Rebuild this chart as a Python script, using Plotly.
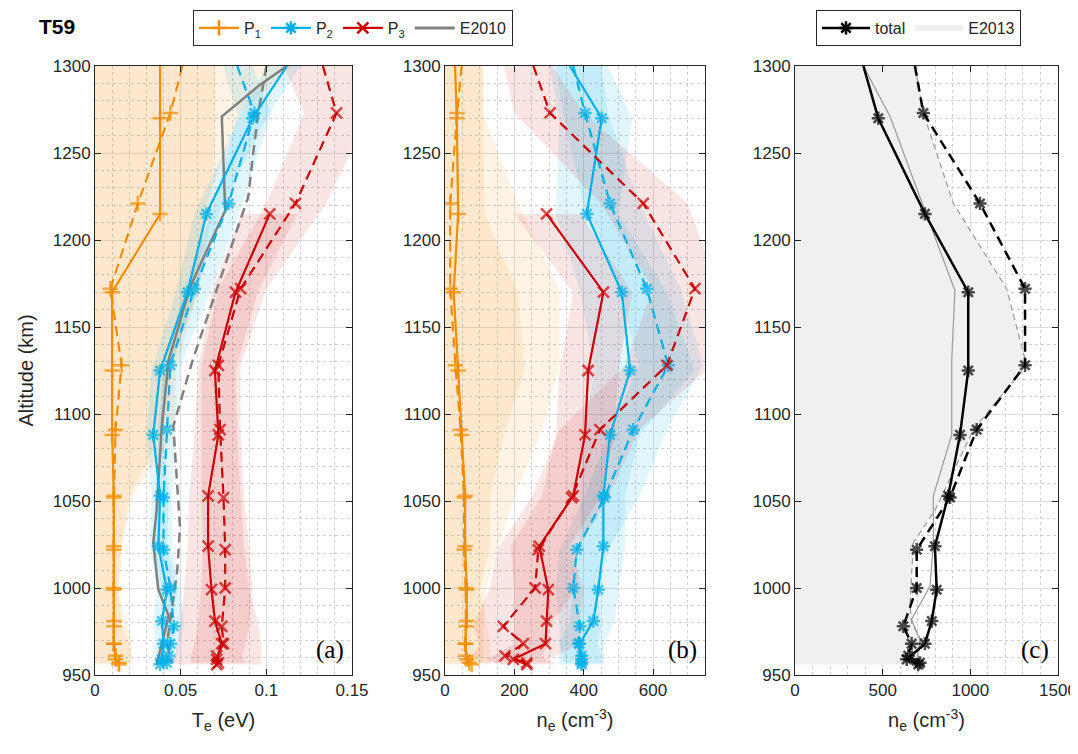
import plotly.graph_objects as go

# ---------------- data ----------------
alt_s = [1300, 1270, 1215, 1170, 1125, 1088, 1053, 1024, 999, 981, 968, 959, 956]
alt_d = [1300, 1273, 1221, 1172, 1128, 1091, 1052, 1022, 1000, 978, 968, 961, 957]

# Panel (a): electron temperature (eV)
te_p1_s = [0.038, 0.038, 0.038, 0.010, 0.010, 0.010, 0.011, 0.011, 0.011, 0.011, 0.011, 0.012, 0.014]
te_p1_d = [0.051, 0.044, 0.025, 0.009, 0.0155, 0.012, 0.011, 0.011, 0.011, 0.011, 0.011, 0.012, 0.014]
te_p2_s = [0.112, 0.092, 0.065, 0.054, 0.038, 0.034, 0.038, 0.037, 0.042, 0.039, 0.040, 0.039, 0.038]
te_p2_d = [0.083, 0.093, 0.078, 0.058, 0.044, 0.042, 0.040, 0.040, 0.044, 0.046, 0.044, 0.043, 0.042]
te_p3_s = [None, None, 0.102, 0.082, 0.070, 0.072, 0.066, 0.066, 0.068, 0.070, 0.074, 0.071, 0.071]
te_p3_d = [0.133, 0.141, 0.117, 0.085, 0.072, 0.073, 0.075, 0.076, 0.076, 0.074, 0.075, 0.071, 0.072]

te_p1_s_lo = [0] * 13
te_p1_s_hi = [0.070, 0.070, 0.068, 0.060, 0.047, 0.046, 0.022, 0.016, 0.014, 0.018, 0.022, 0.022, 0.022]
te_p1_d_lo = [0] * 13
te_p1_d_hi = [0.115, 0.085, 0.065, 0.060, 0.045, 0.040, 0.020, 0.015, 0.013, 0.016, 0.020, 0.020, 0.020]
te_p2_s_lo = [0.100, 0.084, 0.058, 0.047, 0.033, 0.030, 0.033, 0.032, 0.036, 0.034, 0.035, 0.034, 0.033]
te_p2_s_hi = [0.120, 0.100, 0.072, 0.060, 0.043, 0.039, 0.043, 0.042, 0.048, 0.045, 0.046, 0.044, 0.043]
te_p2_d_lo = [0.075, 0.083, 0.070, 0.052, 0.040, 0.037, 0.035, 0.035, 0.039, 0.040, 0.039, 0.038, 0.037]
te_p2_d_hi = [0.092, 0.103, 0.086, 0.068, 0.050, 0.047, 0.045, 0.045, 0.050, 0.052, 0.049, 0.048, 0.047]
te_p3_s_lo = [None, None, 0.085, 0.068, 0.060, 0.058, 0.055, 0.054, 0.052, 0.050, 0.048, 0.046, 0.046]
te_p3_s_hi = [None, None, 0.118, 0.095, 0.082, 0.083, 0.085, 0.087, 0.090, 0.095, 0.097, 0.097, 0.097]
te_p3_d_lo = [0.110, 0.122, 0.100, 0.072, 0.062, 0.062, 0.062, 0.063, 0.062, 0.060, 0.058, 0.056, 0.056]
te_p3_d_hi = [0.160, 0.160, 0.135, 0.100, 0.085, 0.085, 0.087, 0.090, 0.092, 0.090, 0.088, 0.086, 0.088]

# E2010 model (panel a)
e2010_s_alt = [1300, 1289, 1271, 1245, 1217, 1173, 1131, 1093, 1045, 1026, 999, 984, 956]
e2010_s_te = [0.112, 0.096, 0.074, 0.075, 0.076, 0.0555, 0.043, 0.039, 0.036, 0.034, 0.037, 0.043, 0.036]
e2010_d_alt = [1300, 1271, 1247, 1225, 1183, 1143, 1131, 1093, 1035, 1010, 968, 957]
e2010_d_te = [0.100, 0.095, 0.092, 0.0895, 0.075, 0.061, 0.057, 0.0457, 0.0496, 0.048, 0.042, 0.0448]

# Panel (b): electron density (cm^-3)
ne_p1_s = [29, 34, 38, 25, 38, 48, 58, 58, 63, 63, 58, 63, 77]
ne_p1_d = [48, 35, 15, 15, 30, 45, 55, 55, 60, 60, 60, 60, 70]
ne_p2_s = [360, 452, 409, 510, 534, 476, 457, 457, 442, 428, 388, 394, 394]
ne_p2_d = [370, 404, 476, 582, 644, 543, 460, 380, 370, 389, 385, 394, 394]
ne_p3_s = [None, None, 293, 457, 413, 404, 370, 272, 298, 293, 290, 197, 236]
ne_p3_d = [255, 303, 572, 721, 640, 447, 365, 269, 260, 168, 226, 173, 236]

ne_p1_s_lo = [0] * 13
ne_p1_s_hi = [110, 110, 115, 210, 230, 170, 130, 130, 100, 120, 130, 130, 130]
ne_p1_d_lo = [0] * 13
ne_p1_d_hi = [110, 110, 210, 330, 330, 280, 200, 150, 120, 110, 110, 110, 110]
ne_p2_s_lo = [300, 330, 320, 390, 430, 400, 390, 390, 370, 360, 330, 330, 330]
ne_p2_s_hi = [470, 540, 500, 640, 720, 560, 520, 520, 500, 490, 460, 460, 460]
ne_p2_d_lo = [320, 340, 400, 500, 560, 480, 400, 330, 320, 330, 330, 340, 340]
ne_p2_d_hi = [450, 470, 560, 680, 745, 640, 560, 470, 440, 450, 440, 450, 450]
ne_p3_s_lo = [None, None, 200, 370, 330, 320, 280, 190, 200, 200, 200, 120, 150]
ne_p3_s_hi = [None, None, 390, 540, 500, 490, 450, 360, 400, 390, 390, 300, 320]
ne_p3_d_lo = [170, 200, 450, 600, 520, 330, 250, 150, 130, 80, 100, 80, 100]
ne_p3_d_hi = [310, 400, 700, 790, 770, 560, 470, 380, 380, 300, 300, 280, 300]

# Panel (c): total density and E2013 model
ne_tot_s = [390, 475, 741, 988, 988, 941, 874, 798, 808, 780, 741, 637, 703]
ne_tot_d = [684, 732, 1055, 1312, 1312, 1036, 884, 694, 694, 618, 665, 646, 713]
e2013_s_alt = [1300, 1271, 1217, 1171, 1131, 1088, 1053, 1026, 1001, 982, 970, 962, 957]
e2013_s_ne = [390, 542, 741, 912, 894, 894, 789, 789, 770, 665, 713, 700, 713]
e2013_d_alt = [1300, 1273, 1221, 1172, 1128, 1091, 1045, 1026, 990, 980, 970, 960, 956]
e2013_d_ne = [684, 732, 903, 1207, 1321, 1017, 800, 675, 656, 665, 720, 700, 713]

# ---------------- style ----------------
ORANGE = '#F28C00'
BLUE = '#00B0E6'
RED = '#CC0000'
GRAY = '#808080'
AX = '#262626'
FONT = 'Liberation Sans, Arial, sans-serif'
DASH = '10px,6px'

fig = go.Figure()


def band(lo, hi, alt, color, xa, ya):
    pts = [(l, h, a) for l, h, a in zip(lo, hi, alt) if l is not None and h is not None]
    xs = [p[0] for p in pts] + [p[1] for p in reversed(pts)]
    ys = [p[2] for p in pts] + [p[2] for p in reversed(pts)]
    fig.add_trace(go.Scatter(x=xs, y=ys, fill='toself', fillcolor=color, mode='none',
                             line=dict(width=0), hoverinfo='skip', showlegend=False,
                             xaxis=xa, yaxis=ya))


def line(x, y, color, dash, symbol, xa, ya, width=2.2, msize=11, hide_top=True):
    sizes = [msize] * len(x)
    if hide_top:
        sizes[0] = 0
    fig.add_trace(go.Scatter(x=x, y=y, mode='lines+markers' if symbol else 'lines',
                             line=dict(color=color, width=width, dash=dash),
                             marker=dict(symbol=symbol or 'circle', size=sizes, color=color,
                                         line=dict(color=color, width=2.5)),
                             connectgaps=False, showlegend=False, hoverinfo='skip',
                             xaxis=xa, yaxis=ya))


OR_F = 'rgba(242,140,0,0.10)'
BL_F = 'rgba(0,176,230,0.12)'
RD_F = 'rgba(204,0,0,0.10)'

# panel a bands
band(te_p1_s_lo, te_p1_s_hi, alt_s, OR_F, 'x', 'y')
band(te_p1_d_lo, te_p1_d_hi, alt_d, OR_F, 'x', 'y')
band(te_p2_s_lo, te_p2_s_hi, alt_s, BL_F, 'x', 'y')
band(te_p2_d_lo, te_p2_d_hi, alt_d, BL_F, 'x', 'y')
band(te_p3_s_lo, te_p3_s_hi, alt_s, RD_F, 'x', 'y')
band(te_p3_d_lo, te_p3_d_hi, alt_d, RD_F, 'x', 'y')
# panel b bands
band(ne_p1_s_lo, ne_p1_s_hi, alt_s, OR_F, 'x2', 'y2')
band(ne_p1_d_lo, ne_p1_d_hi, alt_d, OR_F, 'x2', 'y2')
band(ne_p2_s_lo, ne_p2_s_hi, alt_s, BL_F, 'x2', 'y2')
band(ne_p2_d_lo, ne_p2_d_hi, alt_d, BL_F, 'x2', 'y2')
band(ne_p3_s_lo, ne_p3_s_hi, alt_s, RD_F, 'x2', 'y2')
band(ne_p3_d_lo, ne_p3_d_hi, alt_d, RD_F, 'x2', 'y2')
# panel c gray E2013 area
fig.add_trace(go.Scatter(x=e2013_d_ne + [0, 0], y=e2013_d_alt + [e2013_d_alt[-1], e2013_d_alt[0]],
                         fill='toself', fillcolor='#F0F0F0', mode='none', hoverinfo='skip',
                         showlegend=False, xaxis='x3', yaxis='y3'))

# panel a lines
line(e2010_s_te, e2010_s_alt, GRAY, 'solid', None, 'x', 'y', width=2.5)
line(e2010_d_te, e2010_d_alt, GRAY, DASH, None, 'x', 'y', width=2.5)
line(te_p1_s, alt_s, ORANGE, 'solid', 'cross-thin', 'x', 'y')
line(te_p1_d, alt_d, ORANGE, DASH, 'cross-thin', 'x', 'y')
line(te_p2_s, alt_s, BLUE, 'solid', 'asterisk', 'x', 'y')
line(te_p2_d, alt_d, BLUE, DASH, 'asterisk', 'x', 'y')
line(te_p3_s, alt_s, RED, 'solid', 'x-thin', 'x', 'y')
line(te_p3_d, alt_d, RED, DASH, 'x-thin', 'x', 'y')
# panel b lines
line(ne_p1_s, alt_s, ORANGE, 'solid', 'cross-thin', 'x2', 'y2')
line(ne_p1_d, alt_d, ORANGE, DASH, 'cross-thin', 'x2', 'y2')
line(ne_p2_s, alt_s, BLUE, 'solid', 'asterisk', 'x2', 'y2')
line(ne_p2_d, alt_d, BLUE, DASH, 'asterisk', 'x2', 'y2')
line(ne_p3_s, alt_s, RED, 'solid', 'x-thin', 'x2', 'y2')
line(ne_p3_d, alt_d, RED, DASH, 'x-thin', 'x2', 'y2')
# panel c lines
line(e2013_s_ne, e2013_s_alt, '#999999', 'solid', None, 'x3', 'y3', width=1.2)
line(e2013_d_ne, e2013_d_alt, '#999999', '6px,4px', None, 'x3', 'y3', width=1.2)
line(ne_tot_s, alt_s, 'black', 'solid', 'asterisk', 'x3', 'y3', width=2.5)
line(ne_tot_d, alt_d, 'black', DASH, 'asterisk', 'x3', 'y3', width=2.5)


# legend-only entries
def leg(name, color, symbol, legend, width=2.2):
    fig.add_trace(go.Scatter(x=[None], y=[None], name=name, mode='lines+markers' if symbol else 'lines',
                             line=dict(color=color, width=width),
                             marker=dict(symbol=symbol or 'circle', size=11, color=color,
                                         line=dict(color=color, width=2.5)),
                             legend=legend, xaxis='x', yaxis='y'))


leg('P<sub>1</sub>', ORANGE, 'cross-thin', 'legend')
leg('P<sub>2</sub>', BLUE, 'asterisk', 'legend')
leg('P<sub>3</sub>', RED, 'x-thin', 'legend')
leg('E2010', GRAY, None, 'legend', width=3)
leg('total', 'black', 'asterisk', 'legend2', width=2.5)
fig.add_trace(go.Scatter(x=[None], y=[None], name='E2013', fill='toself', fillcolor='#F0F0F0',
                         mode='none', legend='legend2', xaxis='x3', yaxis='y3'))

# ---------------- layout ----------------
# The page puts the figure 8 px from the top-left corner; pixel positions below are page pixels.
OFF = 8
W, H = 1078 - OFF, 754 - OFF
PX0, PX1, PY0, PY1 = 95, 1058, 66, 675      # plot region on the page
L, T = PX0 - OFF, PY0 - OFF
R, B = (W + OFF) - PX1, (H + OFF) - PY1
pw = PX1 - PX0
ph = PY1 - PY0


def dom(x0, x1):
    return [(x0 - PX0) / pw, (x1 - PX0) / pw]


def px(x):
    return (x - PX0) / pw


def py(y):
    return (PY1 - y) / ph


common_ax = dict(showline=True, linecolor=AX, linewidth=1, mirror='ticks', ticks='inside',
                 ticklen=6, tickcolor=AX, showgrid=True, gridcolor='#DCDCDC', gridwidth=1,
                 zeroline=False, tickfont=dict(family=FONT, size=17, color=AX))


def xax(d, rng, mdtick, title, tickvals, ticktext):
    a = dict(common_ax)
    a.update(domain=d, range=rng, tickvals=tickvals, ticktext=ticktext,
             minor=dict(dtick=mdtick, tick0=0, showgrid=True, gridcolor='#D0D0D0', griddash='dot', ticks=''),
             title=dict(text=title, font=dict(family=FONT, size=20, color=AX), standoff=13))
    return a


def yax(anchor, title=None):
    a = dict(common_ax)
    a.update(domain=[0, 1], range=[950, 1300], anchor=anchor, tickvals=list(range(950, 1301, 50)),
             minor=dict(dtick=10, tick0=950, showgrid=True, gridcolor='#D0D0D0', griddash='dot', ticks=''))
    if title:
        a['title'] = dict(text=title, font=dict(family=FONT, size=20, color=AX), standoff=13)
    return a


fig.update_layout(
    width=W, height=H, margin=dict(l=L, r=R, t=T, b=B, autoexpand=False),
    plot_bgcolor='white', paper_bgcolor='white',
    xaxis=xax(dom(95, 352), [0, 0.15], 0.01, 'T<sub>e</sub> (eV)',
              [0, 0.05, 0.1, 0.15], ['0', '0.05', '0.1', '0.15']),
    xaxis2=xax(dom(445, 705), [0, 750], 50, 'n<sub>e</sub> (cm<sup>-3</sup>)',
               [0, 200, 400, 600], ['0', '200', '400', '600']),
    xaxis3=xax(dom(795, 1058), [0, 1500], 100, 'n<sub>e</sub> (cm<sup>-3</sup>)',
               [0, 500, 1000, 1500], ['0', '500', '1000', '1500']),
    yaxis=yax('x', 'Altitude (km)'),
    yaxis2=yax('x2'),
    yaxis3=yax('x3'),
    showlegend=True,
    legend=dict(orientation='h', x=px(193), y=py(10), xanchor='left', yanchor='top',
                bordercolor=AX, borderwidth=1, bgcolor='white', itemwidth=40,
                font=dict(family=FONT, size=16, color=AX)),
    legend2=dict(orientation='h', x=px(816), y=py(10), xanchor='left', yanchor='top',
                 bordercolor=AX, borderwidth=1, bgcolor='white', itemwidth=48,
                 font=dict(family=FONT, size=16, color=AX)),
    annotations=[
        dict(text='<b>T59</b>', x=px(37), y=py(13), xref='paper', yref='paper',
             xanchor='left', yanchor='top', showarrow=False, font=dict(family=FONT, size=21, color='black')),
        dict(text='(a)', x=0.975, y=0.015, xref='x domain', yref='y domain', xanchor='right', yanchor='bottom',
             showarrow=False, font=dict(family='Liberation Serif, Times New Roman, serif', size=25, color='black')),
        dict(text='(b)', x=0.975, y=0.015, xref='x2 domain', yref='y2 domain', xanchor='right', yanchor='bottom',
             showarrow=False, font=dict(family='Liberation Serif, Times New Roman, serif', size=25, color='black')),
        dict(text='(c)', x=0.975, y=0.015, xref='x3 domain', yref='y3 domain', xanchor='right', yanchor='bottom',
             showarrow=False, font=dict(family='Liberation Serif, Times New Roman, serif', size=25, color='black')),
    ],
)

fig.write_html('out.html')
